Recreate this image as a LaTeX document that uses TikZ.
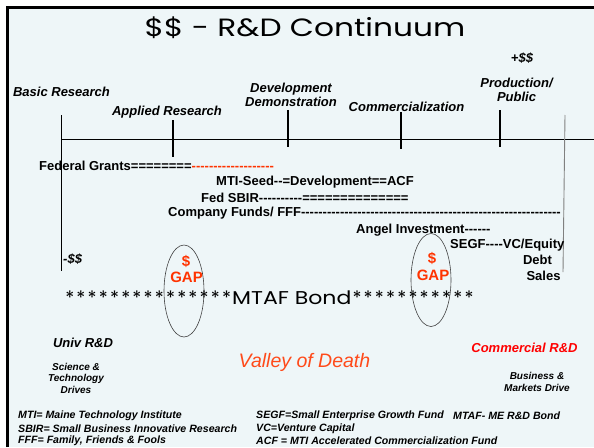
\documentclass[tikz,border=0pt]{standalone}
\usepackage{fontspec}
\usetikzlibrary{shapes.geometric}
\setmainfont{Liberation Sans}[Ligatures=TeXOff]
\newfontfamily\gothic{Poppins}[Ligatures=TeXOff]
\definecolor{bgc}{HTML}{EEF6F8}
\definecolor{gapred}{HTML}{FF3300}
\definecolor{valred}{HTML}{FF4A1A}
\definecolor{comred}{HTML}{FF0000}
\newcommand\stx{\makebox[11.2pt][c]{*}}
\tikzset{
  lbl/.style={font=\bfseries\itshape\fontsize{13}{14}\selectfont, inner sep=0pt, align=center},
  fund/.style={font=\bfseries\fontsize{13}{14}\selectfont, inner sep=0pt, anchor=west},
  small/.style={font=\bfseries\itshape\fontsize{10}{11.5}\selectfont, inner sep=0pt, align=center},
  legend/.style={font=\bfseries\itshape\fontsize{10.6}{12.5}\selectfont, inner sep=0pt, anchor=west},
  gaptxt/.style={font=\bfseries\fontsize{15}{15}\selectfont, text=gapred, inner sep=0pt},
  gapring/.style={draw=black!75, line width=0.6pt, ellipse, inner sep=0pt},
  tick/.style={line width=1.6pt},
}
\begin{document}
\begin{tikzpicture}[x=1pt,y=-1pt]
\useasboundingbox (0,0) rectangle (594,447);
\fill[white] (0,0) rectangle (594,447);
\fill[bgc] (6,6) rectangle (594,447);
\draw[line width=2.6pt] (7.3,447) -- (7.3,7.3) -- (594,7.3);
% title
\node[font=\gothic\fontsize{25}{27}\selectfont, anchor=base, inner sep=0pt] (title) at (305,36) {\scalebox{1.25}[1]{\$\$ - R\&D Continuum}};
% axis
\coordinate (axL) at (61,139);
\coordinate (axR) at (594,139);
\draw[line width=0.9pt] (axL) -- (axR);
\draw[line width=0.9pt] (61,115) -- (61,271);
\draw[tick] (173,120) -- (173,157);
\draw[tick] (288,110) -- (288,147);
\draw[tick] (401,112) -- (401,149);
\draw[tick] (500,110) -- (500,147);
\draw[gray, line width=0.9pt] (565,115) -- (563,272);
% stage labels
\node[lbl] (basic) at (61.5,92) {Basic Research};
\node[lbl] (applied) at (167,112) {Applied Research};
\node[lbl] (devel) at (291,95) {Development\\Demonstration};
\node[lbl] (comm) at (406.5,107) {Commercialization};
\node[lbl] (prod) at (516.5,90) {Production/\\Public};
\node[lbl] (plus) at (522,58) {+\$\$};
\node[lbl, anchor=west] (minus) at (63,259) {-\$\$};
% funding lines
\node[fund] (fed) at (39,166) {Federal Grants========\textcolor{gapred}{-------------------}};
\node[fund] (mti) at (216,182) {MTI-Seed--=Development==ACF};
\node[fund] (sbir) at (201,198) {Fed SBIR----------==============};
\node[fund] (company) at (168,213) {Company Funds/ FFF------------------------------------------------------------};
\node[fund] (angel) at (356,230) {Angel Investment------};
\node[fund] (segf) at (450,245) {SEGF----VC/Equity};
\node[fund, anchor=center] (debt) at (537.5,260) {Debt};
\node[fund, anchor=center] (sales) at (543.5,276) {Sales};
% gaps
\node[gapring, minimum width=40pt, minimum height=92pt] (gapL) at (184,291) {};
\node[gapring, minimum width=40pt, minimum height=93pt] (gapR) at (431,280) {};
\node[gaptxt] (dolL) at (186,261) {\$};
\node[gaptxt] (gapLt) at (186.5,277) {GAP};
\node[gaptxt] (dolR) at (432,258) {\$};
\node[gaptxt] (gapRt) at (433,275) {GAP};
% bond
\node[font=\gothic\fontsize{18.5}{20}\selectfont, anchor=base west, inner sep=0pt] (bond) at (64,304) {\stx\stx\stx\stx\stx\stx\stx\stx\stx\stx\stx\stx\stx\stx\stx\scalebox{1.19}[1]{MTAF Bond}\stx\stx\stx\stx\stx\stx\stx\stx\stx\stx\stx};
% bottom labels
\node[lbl] (univ) at (83,343) {Univ R\&D};
\node[small] (sci) at (76,378) {Science \&\\Technology\\Drives};
\node[font=\itshape\fontsize{19.5}{21}\selectfont, text=valred, inner sep=0pt] (valley) at (304.5,362) {Valley of Death};
\node[lbl, text=comred] (commrd) at (524.5,348) {Commercial R\&D};
\node[small] (bus) at (537,382) {Business \&\\Markets Drive};
% legend
\node[legend] (l1) at (18,416) {MTI= Maine Technology Institute};
\node[legend] (l2) at (18,428.5) {SBIR= Small Business Innovative Research};
\node[legend] (l3) at (18,441) {FFF= Family, Friends \& Fools};
\node[legend] (l4) at (256,416) {SEGF=Small Enterprise Growth Fund};
\node[legend] (l5) at (256,428.5) {VC=Venture Capital};
\node[legend] (l6) at (256,441) {ACF = MTI Accelerated Commercialization Fund};
\node[legend] (l7) at (453,416) {MTAF- ME R\&D Bond};
\end{tikzpicture}
\end{document}
